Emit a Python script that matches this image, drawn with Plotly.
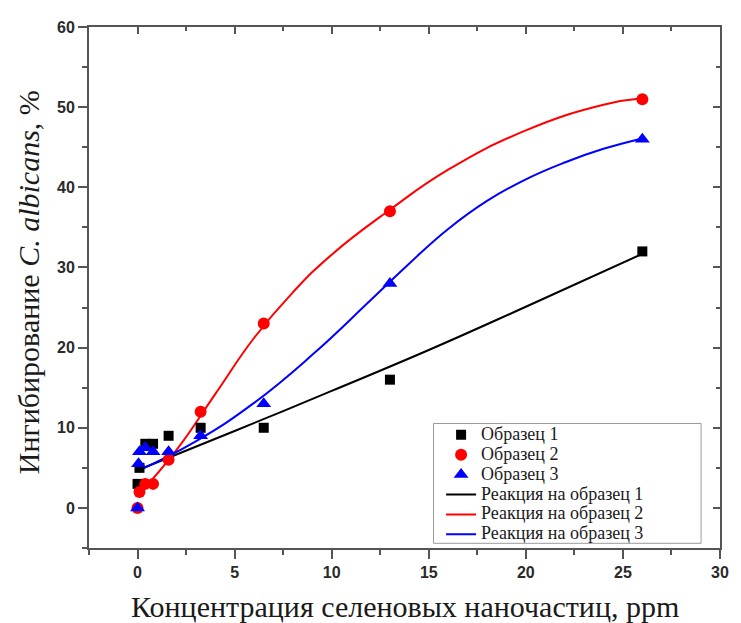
import plotly.graph_objects as go

# ---- data ----
s1_x = [0, 0.1, 0.4, 0.8, 1.6, 3.25, 6.5, 13, 26]
s1_y = [3, 5, 8, 8, 9, 10, 10, 16, 32]

s2_x = [0, 0.1, 0.4, 0.8, 1.6, 3.25, 6.5, 13, 26]
s2_y = [0, 2, 3, 3, 6, 12, 23, 37, 51]

s3_x = [0, 0.05, 0.1, 0.4, 0.8, 1.6, 3.25, 6.5, 13, 26]
s3_y = [0, 5.5, 7, 7.5, 7, 7, 9, 13, 28, 46]

# fitted response curves
f1_x = [0, 5, 10, 15, 20, 26]
f1_y = [4.7, 9.6, 14.6, 19.7, 25.1, 31.7]

f2_x = [0, 2, 4, 6, 8, 10, 13, 16, 20, 24, 26]
f2_y = [1.5, 7.2, 14.2, 21.2, 26.9, 31.6, 37.2, 42.2, 47.1, 50.3, 51.1]

f3_x = [0, 3, 6, 9, 12, 14, 16, 18, 20, 22, 24, 26]
f3_y = [4.6, 8.3, 13.1, 19.1, 25.9, 30.5, 34.8, 38.3, 41.0, 43.1, 44.8, 46.1]

names_pts = ["Образец 1", "Образец 2", "Образец 3"]
names_fit = ["Реакция на образец 1", "Реакция на образец 2", "Реакция на образец 3"]
x_title = "Концентрация селеновых наночастиц, ppm"
y_title = "Ингибирование <i>C. albicans</i>, %"

colors = ["#000000", "#ff0000", "#0000ff"]
symbols = ["square", "circle", "triangle-up"]
msizes = [10, 12, 13]

SERIF = "Liberation Serif, Times New Roman, serif"
SANS = "Liberation Sans, Arial, sans-serif"


def legend_label(t):
    return '<span style="font-size:18px">' + t + '</span>'


fig = go.Figure()

fits = [(f1_x, f1_y), (f2_x, f2_y), (f3_x, f3_y)]
for i, (fx, fy) in enumerate(fits):
    fig.add_trace(go.Scatter(
        x=fx, y=fy, mode="lines", name=legend_label(names_fit[i]),
        line=dict(color=colors[i], width=2, shape="spline", smoothing=1.3),
        legendrank=4 + i, hoverinfo="skip"))

pts = [(s1_x, s1_y), (s2_x, s2_y), (s3_x, s3_y)]
for i, (px, py) in enumerate(pts):
    fig.add_trace(go.Scatter(
        x=px, y=py, mode="markers", name=legend_label(names_pts[i]),
        marker=dict(color=colors[i], symbol=symbols[i], size=msizes[i], line=dict(width=0)),
        legendrank=1 + i))

# helper trace for top / right inside-tick axes
fig.add_trace(go.Scatter(x=[], y=[], xaxis="x2", yaxis="y2", showlegend=False, hoverinfo="skip"))

axis_color = "#555555"
tickfont = dict(family=SANS, size=16, color="#2a2a2a", weight="bold")

fig.update_layout(
    width=741, height=623,
    margin=dict(l=89, r=13, t=27, b=75),
    paper_bgcolor="white", plot_bgcolor="white",
    showlegend=True,
    xaxis=dict(range=[-2.5, 30], tick0=0, dtick=5, showgrid=False, zeroline=False,
               showline=True, linecolor=axis_color, linewidth=2, mirror=True,
               ticks="outside", ticklen=9, tickwidth=2, tickcolor=axis_color,
               minor=dict(ticks="outside", ticklen=5, tickwidth=2, tickcolor=axis_color, dtick=2.5, tick0=0),
               tickfont=tickfont),
    yaxis=dict(range=[-5, 60], tick0=0, dtick=10, showgrid=False, zeroline=False,
               showline=True, linecolor=axis_color, linewidth=2, mirror=True,
               ticks="outside", ticklen=9, tickwidth=2, tickcolor=axis_color,
               minor=dict(ticks="outside", ticklen=5, tickwidth=2, tickcolor=axis_color, dtick=5, tick0=0),
               tickfont=tickfont),
    xaxis2=dict(range=[-2.5, 30], overlaying="x", side="top", anchor="y2", tick0=0, dtick=5,
                showgrid=False, zeroline=False, showline=False, showticklabels=False,
                ticks="inside", ticklen=7, tickwidth=2, tickcolor=axis_color,
                minor=dict(ticks="inside", ticklen=4, tickwidth=2, tickcolor=axis_color, dtick=2.5, tick0=0)),
    yaxis2=dict(range=[-5, 60], overlaying="y", side="right", anchor="x2", tick0=0, dtick=10,
                showgrid=False, zeroline=False, showline=False, showticklabels=False,
                ticks="inside", ticklen=7, tickwidth=2, tickcolor=axis_color,
                minor=dict(ticks="inside", ticklen=4, tickwidth=2, tickcolor=axis_color, dtick=5, tick0=0)),
    legend=dict(x=0.558, y=0.246, xanchor="left", yanchor="top",
                bgcolor="rgba(0,0,0,0)", borderwidth=0,
                font=dict(family=SERIF, size=13, color="#1a1a1a"),
                tracegroupgap=0, itemwidth=30),
    shapes=[dict(type="rect", xref="paper", yref="paper",
                 x0=0.546, x1=0.970, y0=0.009, y1=0.239,
                 line=dict(color="#9a9a9a", width=1), fillcolor="rgba(0,0,0,0)", layer="below")],
    annotations=[
        dict(text=x_title, xref="paper", yref="paper", x=0.5, y=0, yshift=-58,
             xanchor="center", yanchor="middle", showarrow=False,
             font=dict(family=SERIF, size=30, color="#1a1a1a")),
        dict(text=y_title, xref="paper", yref="paper", x=0, y=0.51, xshift=-61,
             xanchor="center", yanchor="middle", textangle=-90, showarrow=False,
             font=dict(family=SERIF, size=30, color="#1a1a1a")),
    ],
)

fig.write_html("out.html")
